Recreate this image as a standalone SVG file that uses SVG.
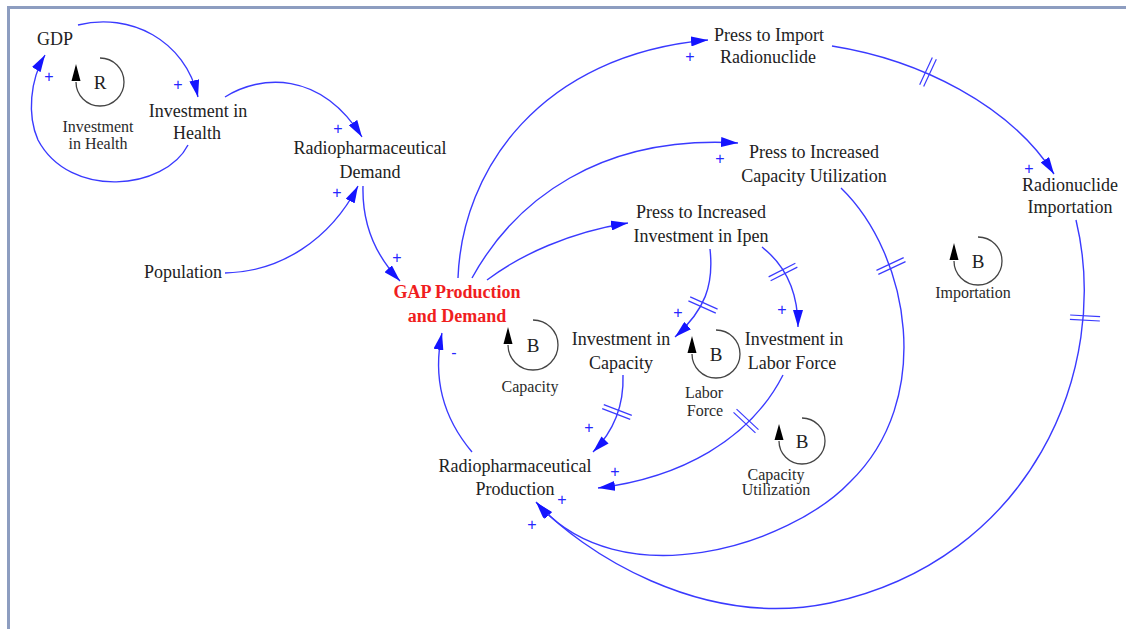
<svg xmlns="http://www.w3.org/2000/svg" width="1126" height="629" viewBox="0 0 1126 629">
  <style>
    .n { font-family: "Liberation Serif", "Times New Roman", serif; font-size: 18px; fill: #222; text-anchor: middle; }
    .gap { font-family: "Liberation Serif", "Times New Roman", serif; font-size: 18px; font-weight: bold; fill: #f01e1e; text-anchor: middle; }
    .lbl { font-family: "Liberation Serif", "Times New Roman", serif; font-size: 16px; fill: #2a2a2a; text-anchor: middle; }
    .ltr { font-family: "Liberation Serif", "Times New Roman", serif; font-size: 19px; fill: #222; text-anchor: middle; }
    .loop { fill: none; stroke: #444; stroke-width: 1.3; }
    .lhead { fill: #000; }
    .link { fill: none; stroke: #3a3aff; stroke-width: 1.4; marker-end: url(#ah); }
    .dly line { stroke: #3a3aff; stroke-width: 1.2; }
    .pol { font-family: "Liberation Sans", Arial, sans-serif; font-size: 16px; fill: #2626ff; text-anchor: middle; dominant-baseline: central; }
    .frame { stroke: #8d9dc0; stroke-width: 3; fill: none; }
  </style>
  <defs>
    <marker id="ah" viewBox="0 0 17 10" refX="17" refY="5" markerWidth="17" markerHeight="10" markerUnits="userSpaceOnUse" orient="auto">
      <path d="M0,0 L17,5 L0,10 z" fill="#1414ff"/>
    </marker>
    <g id="dly" class="dly">
      <line x1="-2.2" y1="-15" x2="-2.2" y2="15"/>
      <line x1="2.2" y1="-15" x2="2.2" y2="15"/>
    </g>
  </defs>

  <rect width="1126" height="629" fill="#fff"/>
  <path class="frame" d="M8.5,629 V7.5 H1126"/>

  <!-- causal links -->
  <g id="connectors">
    <path class="link" d="M78,25 C130,12 185,40 198,97"/>
    <path class="link" d="M188,145 C165,190 70,200 38,140 C27,115 30,80 45,55"/>
    <path class="link" d="M225,97 C260,75 320,70 362,137"/>
    <path class="link" d="M225,273 C280,272 330,240 358,186"/>
    <path class="link" d="M363,186 C362,225 375,255 400,281"/>
    <path class="link" d="M472,452 C445,420 432,380 442,333"/>
    <path class="link" d="M458,278 C462,170 540,55 708,40"/>
    <path class="link" d="M472,278 C515,200 600,135 738,143"/>
    <path class="link" d="M487,280 C520,255 570,232 628,223"/>
    <path class="link" d="M832,46 C920,60 1010,105 1054,174"/>
    <path class="link" d="M1076,220 C1112,370 1030,560 830,603 C700,630 580,550 537,503"/>
    <path class="link" d="M841,188 C910,255 935,400 850,482 C790,545 620,600 536,502"/>
    <path class="link" d="M710,249 C714,285 705,310 675,337"/>
    <path class="link" d="M762,247 C785,265 798,290 798,327"/>
    <path class="link" d="M623,375 C624,405 615,430 593,452"/>
    <path class="link" d="M783,375 C750,440 680,478 598,488"/>

    <!-- delay marks -->
    <use href="#dly" transform="translate(928,72) rotate(25)"/>
    <use href="#dly" transform="translate(1085,318) rotate(93)"/>
    <use href="#dly" transform="translate(891,266) rotate(65)"/>
    <use href="#dly" transform="translate(703,305) rotate(114)"/>
    <use href="#dly" transform="translate(783,272) rotate(63)"/>
    <use href="#dly" transform="translate(617,412) rotate(111)"/>
    <use href="#dly" transform="translate(746,421) rotate(133)"/>

    <!-- polarities -->
    <text class="pol" x="49" y="76">+</text>
    <text class="pol" x="178" y="84">+</text>
    <text class="pol" x="338" y="128">+</text>
    <text class="pol" x="337" y="192">+</text>
    <text class="pol" x="397" y="257">+</text>
    <text class="pol" x="454" y="352">-</text>
    <text class="pol" x="690" y="56">+</text>
    <text class="pol" x="720" y="158">+</text>
    <text class="pol" x="1029" y="168">+</text>
    <text class="pol" x="678" y="312">+</text>
    <text class="pol" x="782" y="309">+</text>
    <text class="pol" x="589" y="427">+</text>
    <text class="pol" x="615" y="471">+</text>
    <text class="pol" x="562" y="499">+</text>
    <text class="pol" x="532" y="524">+</text>
  </g>

  <!-- variables -->
  <g id="gdp"><text class="n" x="55" y="45">GDP</text></g>
  <g id="investment-in-health"><text class="n" x="198" y="117">Investment in</text><text class="n" x="197" y="139">Health</text></g>
  <g id="radiopharmaceutical-demand"><text class="n" x="370" y="154">Radiopharmaceutical</text><text class="n" x="370" y="178">Demand</text></g>
  <g id="population"><text class="n" x="183" y="278">Population</text></g>
  <g id="gap-production-demand"><text class="gap" x="457" y="298">GAP Production</text><text class="gap" x="457" y="322">and Demand</text></g>
  <g id="press-import"><text class="n" x="769" y="41">Press to Import</text><text class="n" x="768" y="63">Radionuclide</text></g>
  <g id="press-capacity-utilization"><text class="n" x="814" y="158">Press to Increased</text><text class="n" x="814" y="182">Capacity Utilization</text></g>
  <g id="press-investment-ipen"><text class="n" x="701" y="218">Press to Increased</text><text class="n" x="701" y="242">Investment in Ipen</text></g>
  <g id="investment-capacity"><text class="n" x="621" y="345">Investment in</text><text class="n" x="621" y="369">Capacity</text></g>
  <g id="investment-labor-force"><text class="n" x="794" y="345">Investment in</text><text class="n" x="792" y="369">Labor Force</text></g>
  <g id="radionuclide-importation"><text class="n" x="1070" y="191">Radionuclide</text><text class="n" x="1070" y="213">Importation</text></g>
  <g id="radiopharmaceutical-production"><text class="n" x="515" y="472">Radiopharmaceutical</text><text class="n" x="515" y="495">Production</text></g>

  <!-- feedback loop markers -->
  <g id="loop-r-investment-health">
    <path class="loop" d="M100,58 A24,24 0 1 1 76,82"/>
    <polygon class="lhead" points="76,64 71.5,81 80.5,81"/>
    <text class="ltr" x="100" y="89">R</text>
    <text class="lbl" x="98" y="132">Investment</text>
    <text class="lbl" x="98" y="149">in Health</text>
  </g>
  <g id="loop-b-capacity">
    <path class="loop" d="M533,320 A25,25 0 1 1 508,345"/>
    <polygon class="lhead" points="508,327 503.5,344 512.5,344"/>
    <text class="ltr" x="533" y="352">B</text>
    <text class="lbl" x="530" y="392">Capacity</text>
  </g>
  <g id="loop-b-labor-force">
    <path class="loop" d="M716,330 A24,24 0 1 1 692,354"/>
    <polygon class="lhead" points="692,336 687.5,353 696.5,353"/>
    <text class="ltr" x="716" y="361">B</text>
    <text class="lbl" x="704" y="398">Labor</text>
    <text class="lbl" x="705" y="416">Force</text>
  </g>
  <g id="loop-b-importation">
    <path class="loop" d="M978,237 A24,24 0 1 1 954,261"/>
    <polygon class="lhead" points="954,243 949.5,260 958.5,260"/>
    <text class="ltr" x="978" y="268">B</text>
    <text class="lbl" x="973" y="298">Importation</text>
  </g>
  <g id="loop-b-capacity-utilization">
    <path class="loop" d="M802,418 A23,23 0 1 1 779,441"/>
    <polygon class="lhead" points="779,424 774.5,440 783.5,440"/>
    <text class="ltr" x="802" y="448">B</text>
    <text class="lbl" x="776" y="480">Capacity</text>
    <text class="lbl" x="776" y="495">Utilization</text>
  </g>
</svg>
